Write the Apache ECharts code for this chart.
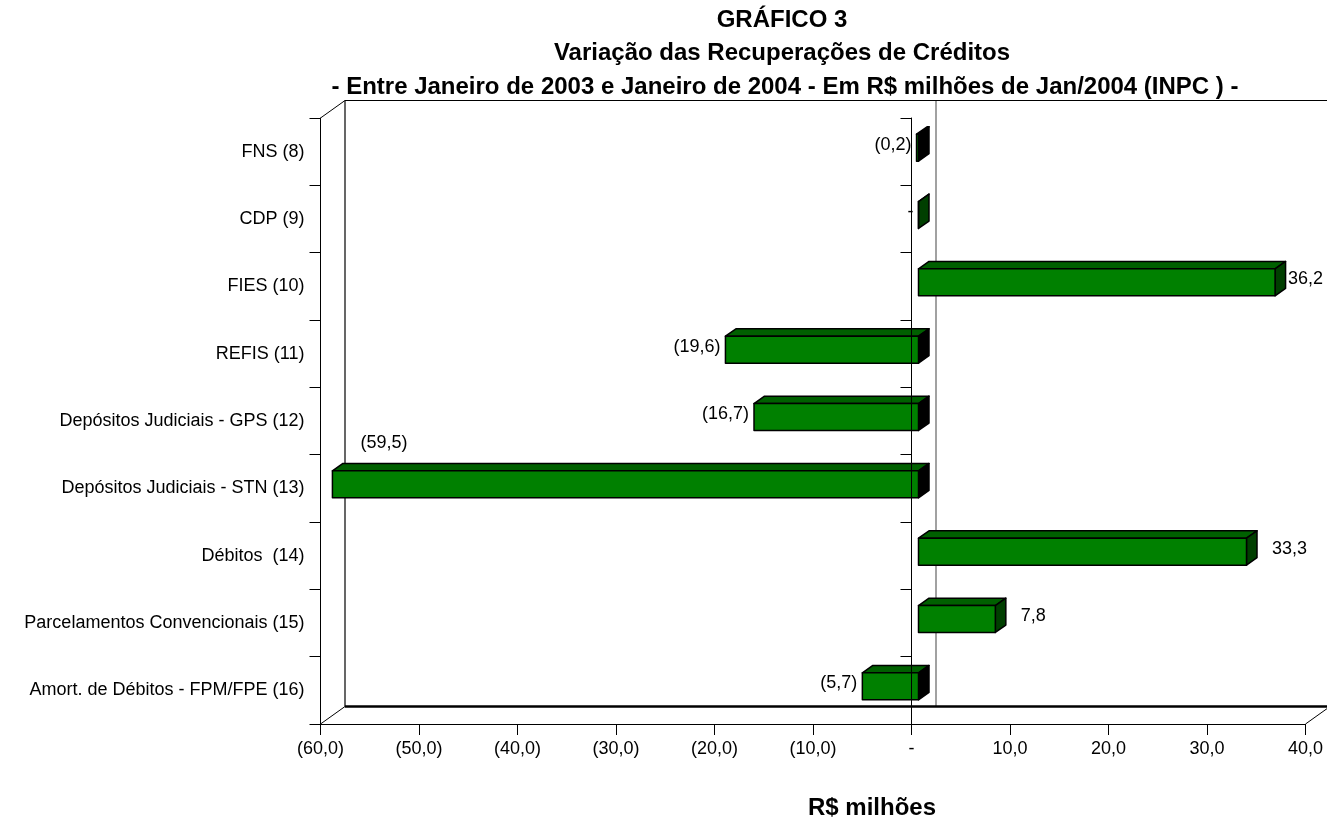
<!DOCTYPE html>
<html>
<head>
<meta charset="utf-8">
<script src="https://cdn.jsdelivr.net/npm/echarts@6/dist/echarts.min.js"></script>
<style>
  html, body { margin: 0; padding: 0; background: #fff; }
  #chart { width: 1327px; height: 820px; }
</style>
</head>
<body>
<div id="chart"></div>
<script>
// Categories, top to bottom
const categories = [
  'FNS (8)',
  'CDP (9)',
  'FIES (10)',
  'REFIS (11)',
  'Depósitos Judiciais - GPS (12)',
  'Depósitos Judiciais - STN (13)',
  'Débitos  (14)',
  'Parcelamentos Convencionais (15)',
  'Amort. de Débitos - FPM/FPE (16)'
];

// Variation of credit recoveries, R$ millions
const variation = [-0.2, 0, 36.2, -19.6, -16.7, -59.5, 33.3, 7.8, -5.7];

// Value-axis tick labels, from -60 to 40
const tickLabels = ['(60,0)', '(50,0)', '(40,0)', '(30,0)', '(20,0)', '(10,0)', '-', '10,0', '20,0', '30,0', '40,0'];

const titleLines = [
  'GRÁFICO 3',
  'Variação das Recuperações de Créditos',
  '- Entre Janeiro de 2003 e Janeiro de 2004 - Em R$ milhões de Jan/2004 (INPC ) -'
];
const axisTitle = 'R$ milhões';

const X_MIN = -60, X_MAX = 40, X_STEP = 10;
const FONT = "'Liberation Sans', Arial, Helvetica, sans-serif";
const LABEL_FONT = '18px ' + FONT;

// Pseudo-3D geometry
const WALL_DEPTH = [24.5, -17.5];   // offset of the back wall from the front plane
const BAR_FRONT = [7, -4];          // offset of the bar front faces
const BAR_DEPTH = [10.5, -7.4];     // thickness of each bar
const BAR_RATIO = 0.4;              // bar height as a share of the category band

const GREEN = '#008000';
const GREEN_TOP = '#006000';
const GREEN_SIDE = '#003f00';

// Portuguese accounting format: comma decimals, negatives in parentheses, zero as "-"
function fmt(v) {
  if (v === 0) return '-';
  const s = Math.abs(v).toFixed(1).replace('.', ',');
  return v < 0 ? '(' + s + ')' : s;
}

const measureCtx = document.createElement('canvas').getContext('2d');
function textWidth(text, font) {
  measureCtx.font = font;
  return measureCtx.measureText(text).width;
}

const chart = echarts.init(document.getElementById('chart'), null, { renderer: 'canvas' });

// Back wall, floor and the far zero line
function renderFrame(params, api) {
  const cs = params.coordSys;
  const L = cs.x, T = cs.y, R = cs.x + cs.width, B = cs.y + cs.height;
  const [dx, dy] = WALL_DEPTH;
  const x0 = api.coord([0, 0])[0];
  const line = (x1, y1, x2, y2, w, color) => ({
    type: 'line',
    shape: { x1, y1, x2, y2 },
    style: { stroke: color || '#000', lineWidth: w || 1 }
  });
  return {
    type: 'group',
    children: [
      line(x0 + dx, T + dy, x0 + dx, B + dy, 1.6, '#8a8a8a'),
      line(L, T, L + dx, T + dy, 1),
      line(L + dx, T + dy, L + dx, B + dy, 1.2),
      line(L + dx, T + dy, R + dx, T + dy, 1.2),
      line(L, B, L + dx, B + dy, 1),
      line(L + dx, B + dy, R + dx, B + dy, 2.4),
      line(R, B, R + dx, B + dy, 1),
      line(R + dx, T + dy, R + dx, B + dy, 1)
    ]
  };
}

function renderBar(params, api) {
  const v = api.value(0);
  const idx = api.value(1);
  const c0 = api.coord([0, idx]);
  const c1 = api.coord([v, idx]);
  const band = api.size([0, 1])[1];
  const h = band * BAR_RATIO / 2;
  const yc = c0[1] + BAR_FRONT[1];
  const xa = c0[0] + BAR_FRONT[0];
  const xb = c1[0] + BAR_FRONT[0];
  const xl = Math.min(xa, xb), xr = Math.max(xa, xb);
  const [dx, dy] = BAR_DEPTH;
  const top = yc - h, bot = yc + h;
  const stroke = { stroke: '#000', lineWidth: 1.5, lineJoin: 'round' };

  const children = [
    {
      type: 'polygon',
      shape: { points: [[xl, top], [xr, top], [xr + dx, top + dy], [xl + dx, top + dy]] },
      style: Object.assign({ fill: GREEN_TOP }, stroke)
    },
    {
      type: 'polygon',
      shape: { points: [[xr, top], [xr + dx, top + dy], [xr + dx, bot + dy], [xr, bot]] },
      style: Object.assign({ fill: v < 0 ? '#000' : GREEN_SIDE }, stroke)
    },
    {
      type: 'rect',
      shape: { x: xl, y: top, width: xr - xl, height: bot - top },
      style: Object.assign({ fill: GREEN }, stroke)
    }
  ];

  // Value label: right of positive bars, left of the others,
  // moved above the bar when it would leave the plot area
  const text = fmt(v);
  const tw = textWidth(text, LABEL_FONT);
  let lx, ly = yc - 3, align;
  if (v > 0) {
    lx = Math.min(xr + dx + 15, api.getWidth() - 4 - tw);
    align = 'left';
  } else {
    lx = xl - 5;
    align = 'right';
    if (lx - tw < params.coordSys.x) {
      lx = xl + 28;
      ly = top - 28;
      align = 'left';
    }
  }
  children.push({
    type: 'text',
    style: { text, x: lx, y: ly, align, verticalAlign: 'middle', font: LABEL_FONT, fill: '#000' }
  });
  return { type: 'group', children };
}

const barData = variation.map((v, i) => [v, i]);

const categoryAxisBase = {
  type: 'category',
  data: categories,
  inverse: true,
  position: 'left',
  boundaryGap: true,
  axisTick: { show: true, length: 11, lineStyle: { color: '#000', width: 1 } },
  splitLine: { show: false }
};

chart.setOption({
  animation: false,
  backgroundColor: '#fff',
  grid: { left: 320.5, top: 118, width: 985, height: 606 },
  xAxis: {
    type: 'value',
    min: X_MIN,
    max: X_MAX,
    interval: X_STEP,
    axisLine: { show: true, onZero: false, lineStyle: { color: '#000', width: 1 } },
    axisTick: { show: true, length: 11, lineStyle: { color: '#000', width: 1 } },
    axisLabel: {
      formatter: (val) => tickLabels[Math.round((val - X_MIN) / X_STEP)],
      margin: 16,
      color: '#000',
      fontSize: 18,
      fontFamily: FONT
    },
    splitLine: { show: false }
  },
  yAxis: [
    Object.assign({}, categoryAxisBase, {
      axisLine: { show: true, onZero: false, lineStyle: { color: '#000', width: 1 } },
      axisLabel: { margin: 16, color: '#000', fontSize: 18, fontFamily: FONT }
    }),
    Object.assign({}, categoryAxisBase, {
      z: 10,
      axisLine: { show: true, onZero: true, lineStyle: { color: '#000', width: 1 } },
      axisLabel: { show: false }
    })
  ],
  graphic: [
    { type: 'text', x: 782, y: 20, style: { text: titleLines[0], align: 'center', verticalAlign: 'middle', font: 'bold 24px ' + FONT, fill: '#000' } },
    { type: 'text', x: 782, y: 53, style: { text: titleLines[1], align: 'center', verticalAlign: 'middle', font: 'bold 24px ' + FONT, fill: '#000' } },
    { type: 'text', x: 785, y: 87, style: { text: titleLines[2], align: 'center', verticalAlign: 'middle', font: 'bold 24px ' + FONT, fill: '#000' } },
    { type: 'text', x: 872, y: 808, style: { text: axisTitle, align: 'center', verticalAlign: 'middle', font: 'bold 24px ' + FONT, fill: '#000' } }
  ],
  series: [
    {
      type: 'custom',
      name: 'frame',
      coordinateSystem: 'cartesian2d',
      xAxisIndex: 0,
      yAxisIndex: 0,
      clip: false,
      silent: true,
      z: 1,
      data: [[0, 0]],
      encode: { x: 0, y: 1 },
      renderItem: renderFrame
    },
    {
      type: 'custom',
      name: 'Variação',
      coordinateSystem: 'cartesian2d',
      xAxisIndex: 0,
      yAxisIndex: 0,
      clip: false,
      z: 3,
      data: barData,
      encode: { x: 0, y: 1 },
      renderItem: renderBar
    }
  ]
});
</script>
</body>
</html>
